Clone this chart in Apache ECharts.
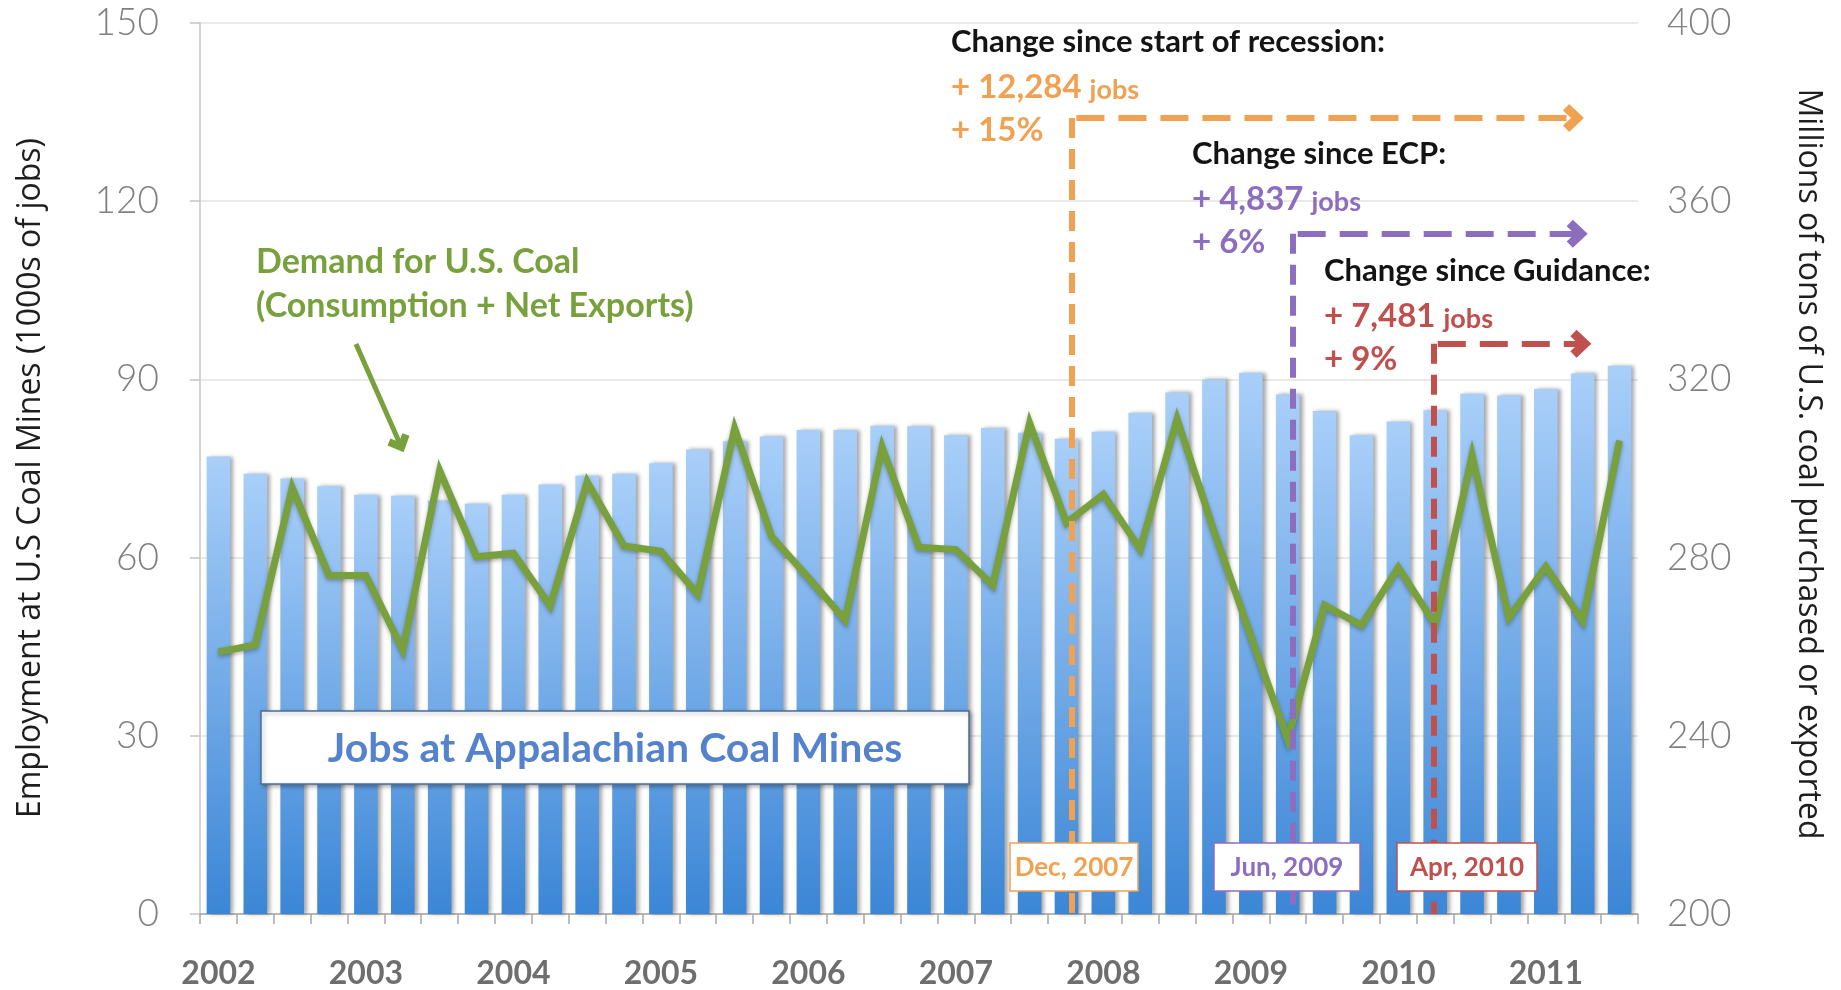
<!DOCTYPE html>
<html><head><meta charset="utf-8">
<script src="https://cdn.jsdelivr.net/npm/echarts@6/dist/echarts.min.js"></script>
<style>html,body{margin:0;padding:0;background:#fff}#c{width:1841px;height:990px}</style>
</head><body><div id="c"></div>
<script>
// ---------- data ----------
const categories = [
 '2002 Q1','2002 Q2','2002 Q3','2002 Q4','2003 Q1','2003 Q2','2003 Q3','2003 Q4',
 '2004 Q1','2004 Q2','2004 Q3','2004 Q4','2005 Q1','2005 Q2','2005 Q3','2005 Q4',
 '2006 Q1','2006 Q2','2006 Q3','2006 Q4','2007 Q1','2007 Q2','2007 Q3','2007 Q4',
 '2008 Q1','2008 Q2','2008 Q3','2008 Q4','2009 Q1','2009 Q2','2009 Q3','2009 Q4',
 '2010 Q1','2010 Q2','2010 Q3','2010 Q4','2011 Q1','2011 Q2','2011 Q3'];
// Jobs at Appalachian coal mines (1000s) - left axis
const jobs = [77.0,74.1,73.3,72.0,70.6,70.4,69.6,69.1,70.6,72.3,
              73.8,74.1,75.9,78.2,79.6,80.4,81.5,81.5,82.2,82.1,
              80.6,81.8,81.0,80.0,81.2,84.4,87.8,90.0,91.1,87.5,
              84.7,80.6,82.9,84.8,87.6,87.3,88.4,91.0,92.3];
// Demand for U.S. coal (million tons) - right axis
const demand = [258.8,260.4,295.7,276.0,276.0,259.3,299.5,280.2,281.0,269.2,
                297.0,282.6,281.4,271.8,309.0,284.8,275.5,266.0,304.8,282.3,
                281.8,273.8,310.2,287.8,294.2,281.9,311.1,286.0,262.4,239.2,
                269.3,264.8,277.8,265.0,303.0,266.5,278.0,265.8,306.3];
const leftTicks = [0, 150, 30];
const rightTicks = [200, 400, 40];
// milestones: date label, category position, level (left axis) of the arrow, arrow end position
const milestoneLabels = ['Dec, 2007', 'Jun, 2009', 'Apr, 2010'];
const milestonePos = [23.15, 29.15, 32.95];
const milestoneLevel = [134, 114.5, 96];
const milestoneEnd = [36.75, 36.85, 36.95];
const changeTitles = ['Change since start of recession:', 'Change since ECP:', 'Change since Guidance:'];
const changeJobs = ['+ 12,284', '+ 4,837', '+ 7,481'];
const changePct = ['+ 15%', '+ 6%', '+ 9%'];
const leftTitle = 'Employment at U.S Coal Mines (1000s of jobs)';
const rightTitle = 'Millions of tons of U.S. coal purchased or exported';

// ---------- styles ----------
const FONT = 'Lato, "Open Sans", sans-serif';
const TFONT = '"Open Sans", Lato, sans-serif';
const colors = ['#F0A152', '#8C6DBE', '#C0504D'];
const GREEN = '#78A13E';
const CHEVRON = 'path://M0,12 L12,0 L24,12 L18.5,17 L12,10.5 L5.5,17 Z';

const chart = echarts.init(document.getElementById('c'));

const mlData = [];
milestonePos.forEach((x, i) => {
  const c = colors[i];
  mlData.push([
    {coord:[x, milestoneLevel[i]], symbol:'none', lineStyle:{color:c, width:6, type:[20,11], cap:'butt'}},
    {coord:[x, 0], symbol:'none'}
  ]);
  mlData.push([
    {coord:[x + 0.12, milestoneLevel[i]], symbol:'none', lineStyle:{color:c, width:6, type:[28,14], cap:'butt'}},
    {coord:[milestoneEnd[i], milestoneLevel[i]], symbol:CHEVRON, symbolSize:[28,21]}
  ]);
});
// green pointer arrow for the demand label
mlData.push([
  {x:356, y:344, symbol:'none', lineStyle:{color:GREEN, width:5, type:'solid'}},
  {x:400, y:444, symbol:CHEVRON, symbolSize:[24,18]}
]);

// annotation texts
const textX = [951, 1192, 1324];
const textY = [42, 154, 271];
const graphics = [
  {type:'text', x:31, y:478, rotation:Math.PI/2, z:20, style:{text:leftTitle, font:'32px '+TFONT, fill:'#1e1e1e', align:'center', verticalAlign:'middle'}},
  {type:'text', x:1808, y:464, rotation:-Math.PI/2, z:20, style:{text:rightTitle, font:'32px '+TFONT, fill:'#1e1e1e', align:'center', verticalAlign:'middle'}},
  {type:'text', x:256, y:262, z:20, style:{text:'Demand for U.S. Coal', font:'bold 34px '+FONT, fill:GREEN, verticalAlign:'middle'}},
  {type:'text', x:256, y:306, z:20, style:{text:'(Consumption + Net Exports)', font:'bold 34px '+FONT, fill:GREEN, verticalAlign:'middle'}},
  {type:'rect', z:20, shape:{x:261, y:711, width:708, height:73},
   style:{fill:'#fff', stroke:'#4d6d96', lineWidth:1.5, shadowBlur:4, shadowColor:'rgba(0,0,0,0.3)', shadowOffsetX:2, shadowOffsetY:2}},
  {type:'text', x:615, y:749, z:21, style:{text:'Jobs at Appalachian Coal Mines', font:'bold 41px '+FONT, fill:'#5482CD', align:'center', verticalAlign:'middle'}}
];
changeTitles.forEach((t, i) => {
  const c = colors[i];
  graphics.push({type:'text', x:textX[i], y:textY[i], z:20, style:{text:t, font:'bold 31px '+FONT, fill:'#141414', verticalAlign:'middle'}});
  graphics.push({type:'text', x:textX[i], y:textY[i]+45, z:20, style:{
    text:'{n|' + changeJobs[i] + ' }{u|jobs}', verticalAlign:'middle',
    rich:{n:{font:'bold 33px '+FONT, fill:c, verticalAlign:'bottom'}, u:{font:'bold 27px '+FONT, fill:c, verticalAlign:'bottom'}}}});
  graphics.push({type:'text', x:textX[i], y:textY[i]+88, z:20, style:{text:changePct[i], font:'bold 33px '+FONT, fill:c, verticalAlign:'middle'}});
});
// date boxes
const boxX = [1010, 1214, 1397];
const boxW = [128, 146, 140];
milestoneLabels.forEach((t, i) => {
  const c = colors[i];
  graphics.push({type:'rect', z:20, shape:{x:boxX[i], y:843, width:boxW[i], height:48}, style:{fill:'#fff', stroke:c, lineWidth:1.5}});
  graphics.push({type:'text', z:21, x:boxX[i] + boxW[i]/2, y:868, style:{text:t, font:'bold 26px '+FONT, fill:c, align:'center', verticalAlign:'middle'}});
});

const option = {
  animation:false,
  backgroundColor:'#fff',
  grid:{left:200, right:203, top:23, bottom:76, outerBoundsMode:'none'},
  xAxis:[{
    type:'category', data:categories, boundaryGap:true,
    axisLine:{lineStyle:{color:'#a6a6a6', width:1.5}},
    axisTick:{show:true, interval:0, length:10, lineStyle:{color:'#a6a6a6', width:1.5}},
    axisLabel:{interval:3, margin:44, formatter:v => v.slice(0,4), color:'#6e6e6e', fontSize:32, fontWeight:'bold', fontFamily:FONT},
    splitLine:{show:false}
  },{
    type:'value', min:-0.5, max:38.5, show:false
  }],
  yAxis:[{
    type:'value', min:leftTicks[0], max:leftTicks[1], interval:leftTicks[2], position:'left',
    axisLine:{show:true, onZero:false, lineStyle:{color:'#c4c4c4', width:1.5}},
    axisTick:{show:true, length:10, lineStyle:{color:'#c4c4c4', width:1.5}},
    axisLabel:{margin:41, fontSize:37, color:'#808080', fontFamily:FONT, fontWeight:300},
    splitLine:{lineStyle:{color:'#e2e2e2', width:1.5}}
  },{
    type:'value', min:rightTicks[0], max:rightTicks[1], interval:rightTicks[2], position:'right',
    axisLine:{show:false, onZero:false}, axisTick:{show:false}, splitLine:{show:false},
    axisLabel:{margin:29, fontSize:37, color:'#808080', fontFamily:FONT, fontWeight:300}
  }],
  series:[{
    type:'bar', name:'Jobs at Appalachian Coal Mines', data:jobs, barWidth:'64%', z:2,
    itemStyle:{
      color:new echarts.graphic.LinearGradient(0,0,0,1,[{offset:0,color:'#a9cff9'},{offset:1,color:'#3b86d6'}]),
      shadowColor:'rgba(0,0,0,0.35)', shadowBlur:4, shadowOffsetX:3, shadowOffsetY:0
    }
  },{
    type:'line', name:'Demand for U.S. Coal', data:demand, yAxisIndex:1, z:3,
    symbol:'none', lineStyle:{color:GREEN, width:7, shadowColor:'rgba(0,0,0,0.3)', shadowBlur:4, shadowOffsetY:2, join:'miter'}
  },{
    type:'line', name:'markers', xAxisIndex:1, yAxisIndex:0, data:[], z:5, silent:true,
    markLine:{silent:true, animation:false, symbol:['none','none'], label:{show:false}, emphasis:{disabled:true}, data:mlData}
  }],
  graphic:graphics
};
chart.setOption(option);
</script>
</body></html>
